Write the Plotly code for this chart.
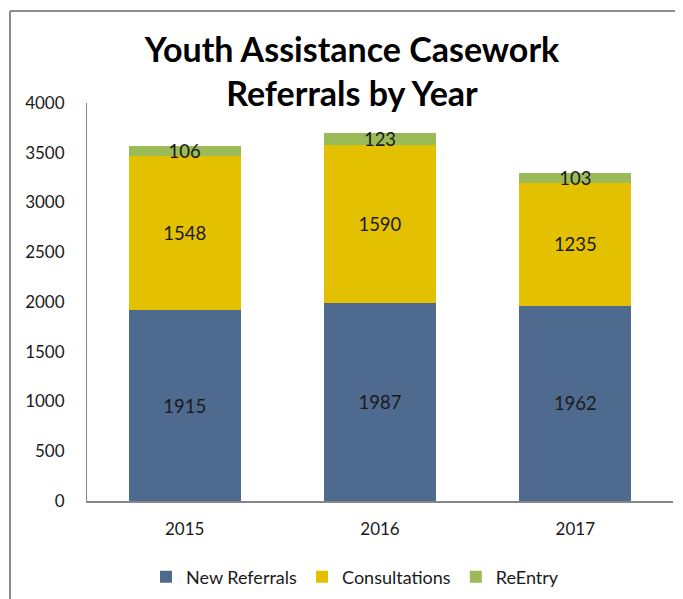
import plotly.graph_objects as go

years = ["2015", "2016", "2017"]
new_referrals = [1915, 1987, 1962]
consultations = [1548, 1590, 1235]
reentry = [106, 123, 103]
y_ticks = [0, 500, 1000, 1500, 2000, 2500, 3000, 3500, 4000]

FONT = "Lato, Calibri, 'Open Sans', sans-serif"

series = [
    ("New Referrals", new_referrals, "#4F6A8F"),
    ("Consultations", consultations, "#E4C100"),
    ("ReEntry", reentry, "#9BBB59"),
]

fig = go.Figure()
for name, vals, color in series:
    fig.add_trace(go.Bar(
        x=years, y=vals, name=name,
        marker=dict(color=color, line=dict(width=0)),
        text=[str(v) for v in vals],
        textposition="inside",
        insidetextanchor="middle",
        textangle=0,
        constraintext="none",
        textfont=dict(family=FONT, size=18.5, color="#1a1a1a"),
    ))

W, H = 683, 599
OFF = 8  # page body margin offset
# desired screen positions of plot area
SL, SR, ST, SB = 87, 673, 103, 501
L = SL - OFF
T = ST - OFF
R = W - (SR - OFF)
B = H - (SB - OFF)
pw, ph = W - L - R, H - T - B

def px(sx):
    return (sx - OFF - L) / pw

def py(sy):
    return (H - B - (sy - OFF)) / ph

fig.update_layout(
    width=W, height=H,
    barmode="stack",
    bargap=0.425,
    margin=dict(l=L, r=R, t=T, b=B),
    paper_bgcolor="white",
    plot_bgcolor="white",
    font=dict(family=FONT, size=17, color="#1a1a1a"),
    title=dict(
        text="<b>Youth Assistance Casework<br>Referrals by Year</b>",
        x=(352 - OFF) / W, xanchor="center",
        y=1 - (62 - OFF) / H, yanchor="middle",
        font=dict(family=FONT, size=34, color="#000000"),
    ),
    xaxis=dict(
        showline=True, linecolor="#868686", linewidth=1.5,
        ticks="", showgrid=False, ticklabelstandoff=12,
        tickfont=dict(size=17, family=FONT, color="#1a1a1a"),
    ),
    yaxis=dict(
        range=[0, 4000], tickvals=y_ticks,
        showline=True, linecolor="#868686", linewidth=1,
        ticks="", showgrid=False, ticklabelstandoff=18,
        tickfont=dict(size=17, family=FONT, color="#1a1a1a"),
        zeroline=False,
    ),
    legend=dict(
        orientation="h",
        x=px(355), xanchor="center",
        y=py(577), yanchor="middle",
        font=dict(size=18, family=FONT, color="#1a1a1a"),
        traceorder="normal",
        itemwidth=30,
    ),
    shapes=[
        dict(type="line", xref="paper", yref="paper",
             x0=px(10), x1=px(10), y0=py(H + 20), y1=py(11),
             line=dict(color="#8c8c8c", width=2)),
        dict(type="line", xref="paper", yref="paper",
             x0=px(10), x1=px(W + 20), y0=py(11), y1=py(11),
             line=dict(color="#8c8c8c", width=2)),
    ],
)

fig.write_html("out.html")
